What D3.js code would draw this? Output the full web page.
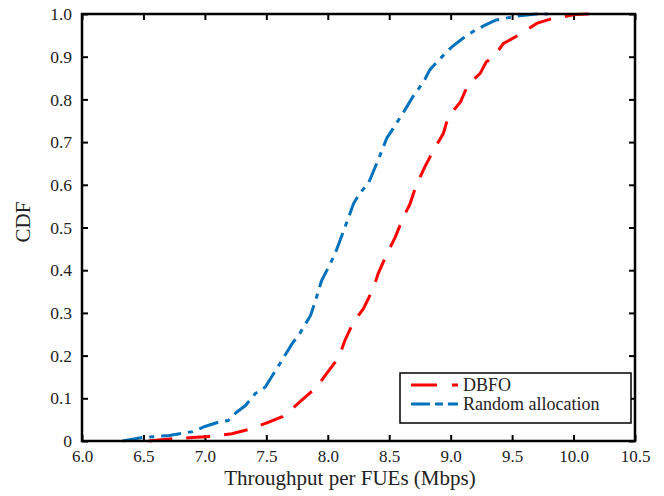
<!DOCTYPE html>
<html>
<head>
<meta charset="utf-8">
<script src="https://cdn.jsdelivr.net/npm/d3@7"></script>
<style>
  body { margin: 0; background: #fff; }
  .axis path { display: none; }
  .axis line { stroke: #000; stroke-width: 2; }
</style>
</head>
<body>
<div id="plot"></div>
<script>
const serif = "Liberation Serif",
      textColor = "#222"

// tick values
const xTicks = [6.0, 6.5, 7.0, 7.5, 8.0, 8.5, 9.0, 9.5, 10.0, 10.5],
      yTicks = [0, 0.1, 0.2, 0.3, 0.4, 0.5, 0.6, 0.7, 0.8, 0.9, 1.0]

// DBFO curve
const dbfoX = [6.54, 6.73, 6.90, 7.07, 7.22, 7.38, 7.52, 7.63, 7.68, 7.77, 7.91, 7.99, 8.09, 8.14,
               8.21, 8.29, 8.37, 8.41, 8.47, 8.49, 8.55, 8.61, 8.67, 8.72, 8.79, 8.86, 8.94, 8.98,
               9.08, 9.14, 9.24, 9.29, 9.35, 9.43, 9.58, 9.70, 9.81, 9.89, 10.01, 10.15],
      dbfoY = [0, 0.005, 0.008, 0.011, 0.017, 0.029, 0.044, 0.057, 0.068, 0.091, 0.126, 0.158, 0.196, 0.236,
               0.279, 0.310, 0.357, 0.392, 0.431, 0.443, 0.478, 0.521, 0.556, 0.599, 0.642, 0.681, 0.720, 0.759,
               0.794, 0.834, 0.861, 0.888, 0.900, 0.931, 0.955, 0.978, 0.988, 0.992, 0.999, 1.0]

// random allocation curve
const randX = [6.33, 6.49, 6.71, 6.90, 7.00, 7.11, 7.19, 7.26, 7.33, 7.41, 7.49, 7.56, 7.61, 7.71,
               7.77, 7.86, 7.90, 7.95, 8.02, 8.06, 8.14, 8.21, 8.26, 8.33, 8.41, 8.48, 8.55, 8.61,
               8.70, 8.78, 8.83, 8.89, 8.97, 9.01, 9.10, 9.20, 9.28, 9.37, 9.48, 9.56, 9.70, 9.79],
      randY = [0, 0.008, 0.013, 0.022, 0.034, 0.044, 0.048, 0.068, 0.083, 0.111, 0.126, 0.158, 0.181, 0.228,
               0.251, 0.294, 0.329, 0.376, 0.415, 0.439, 0.501, 0.556, 0.580, 0.603, 0.658, 0.709, 0.740, 0.767,
               0.810, 0.841, 0.869, 0.888, 0.912, 0.923, 0.943, 0.962, 0.974, 0.986, 0.992, 0.996, 1.0, 1.0]

const seriesNames = ["DBFO", "Random allocation"],
      seriesColors = ["#ff0000", "#0072bd"],
      seriesDash = ["24,14", "20,7,5,7"]

const w = 664, h = 496,
      margin = {top: 14, right: 29, bottom: 55, left: 82}

const svg = d3.select("#plot").append("svg")
  .attr("width", w)
  .attr("height", h)
  .attr("font-family", serif)

const xScale = d3.scaleLinear()
        .domain([6, 10.5])
        .range([margin.left, w - margin.right]),
      yScale = d3.scaleLinear()
        .domain([0, 1])
        .range([h - margin.bottom, margin.top])

// helper so every text gets the serif face directly
const serifText = sel => sel
  .attr("font-family", serif)
  .style("font-family", serif)
  .attr("fill", textColor)

// axes, ticks pointing inward on all four sides
const xAxisG = svg.append("g")
  .attr("class", "axis")
  .attr("transform", `translate(0, ${h - margin.bottom})`)
  .call(d3.axisBottom(xScale).tickValues(xTicks).tickSize(-6).tickPadding(9)
    .tickFormat(d3.format(".1f")))
xAxisG.attr("font-family", serif).attr("font-size", 17)
xAxisG.selectAll("text").call(serifText)

svg.append("g")
  .attr("class", "axis")
  .attr("transform", `translate(0, ${margin.top})`)
  .call(d3.axisTop(xScale).tickValues(xTicks).tickSize(-6).tickFormat(""))

const yAxisG = svg.append("g")
  .attr("class", "axis")
  .attr("transform", `translate(${margin.left}, 0)`)
  .call(d3.axisLeft(yScale).tickValues(yTicks).tickSize(-6).tickPadding(10)
    .tickFormat(d => d === 0 ? "0" : d3.format(".1f")(d)))
yAxisG.attr("font-family", serif).attr("font-size", 17.5)
yAxisG.selectAll("text").call(serifText)

svg.append("g")
  .attr("class", "axis")
  .attr("transform", `translate(${w - margin.right}, 0)`)
  .call(d3.axisRight(yScale).tickValues(yTicks).tickSize(-6).tickFormat(""))

// curves
const line = d3.line()
  .x(d => xScale(d[0]))
  .y(d => yScale(d[1]))

const series = [d3.zip(dbfoX, dbfoY), d3.zip(randX, randY)]

series.forEach((pts, i) => {
  svg.append("path")
    .datum(pts)
    .attr("d", line)
    .attr("fill", "none")
    .attr("stroke", seriesColors[i])
    .attr("stroke-width", 3)
    .attr("stroke-dasharray", seriesDash[i])
})

// frame
svg.append("rect")
  .attr("x", margin.left)
  .attr("y", margin.top)
  .attr("width", w - margin.left - margin.right)
  .attr("height", h - margin.top - margin.bottom)
  .attr("fill", "none")
  .attr("stroke", "#000")
  .attr("stroke-width", 2.5)

// axis titles
svg.append("text")
  .attr("x", 350)
  .attr("y", 485)
  .attr("text-anchor", "middle")
  .attr("font-size", 21)
  .call(serifText)
  .text("Throughput per FUEs (Mbps)")

svg.append("text")
  .attr("transform", "translate(30, 222) rotate(-90)")
  .attr("text-anchor", "middle")
  .attr("font-size", 21)
  .call(serifText)
  .text("CDF")

// legend
const lg = svg.append("g")
  .attr("transform", "translate(400, 373)")

lg.append("rect")
  .attr("width", 231)
  .attr("height", 50)
  .attr("fill", "#fff")
  .attr("stroke", "#000")
  .attr("stroke-width", 1.5)

seriesNames.forEach((name, i) => {
  const y = 12 + i * 19
  lg.append("line")
    .attr("x1", 11).attr("x2", 58)
    .attr("y1", y).attr("y2", y)
    .attr("stroke", seriesColors[i])
    .attr("stroke-width", 3)
    .attr("stroke-dasharray", i === 0 ? "26,15,6,0" : "19,5,8,5,10,0")
  lg.append("text")
    .attr("x", 63)
    .attr("y", y + 6)
    .attr("font-size", 18)
    .call(serifText)
    .text(name)
})
</script>
</body>
</html>
